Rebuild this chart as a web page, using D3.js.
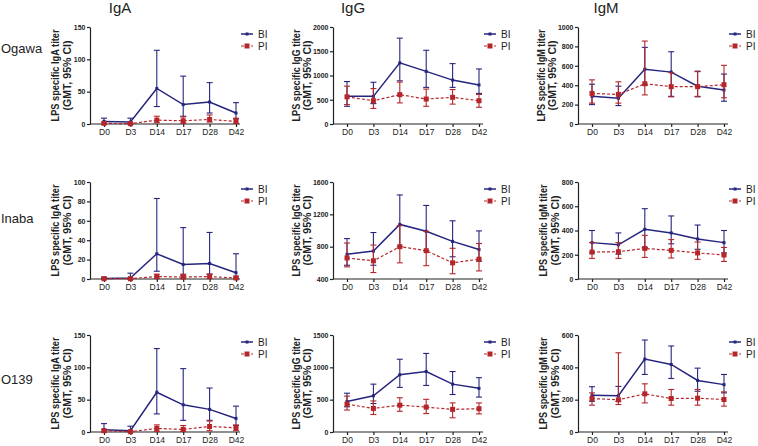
<!DOCTYPE html>
<html><head><meta charset="utf-8">
<script src="https://cdn.jsdelivr.net/npm/d3@7"></script>
<style>
html,body{margin:0;padding:0;background:#fff;}
svg{display:block;}
</style></head>
<body>
<svg id="chart" width="758" height="446"></svg>
<script>
// ---- Data ----
const days = ["D0","D3","D14","D17","D28","D42"];
const strains = ["Ogawa","Inaba","O139"];
const isotypes = ["IgA","IgG","IgM"];
const seriesNames = ["BI","PI"];

// [GMT, lower 95% CI, upper 95% CI] for each day
const ogawaIgA_BI = [[4,0.5,9],[3,0.5,9],[55,27,114],[30,12,74],[34,17,64],[17,8,33]];
const ogawaIgA_PI = [[1,0.2,3],[0.5,0.1,2],[6,2,12],[5,1,11],[7,3,14],[4,1,9]];
const ogawaIgG_BI = [[570,365,875],[570,420,860],[1260,890,1770],[1085,755,1520],[905,755,1245],[805,630,1135]];
const ogawaIgG_PI = [[560,400,780],[480,320,730],[605,435,865],[515,365,720],[550,410,710],[480,345,610]];
const ogawaIgM_BI = [[285,200,410],[265,190,390],[565,400,790],[535,285,745],[390,280,545],[350,235,515]];
const ogawaIgM_PI = [[315,215,455],[305,215,435],[415,300,855],[385,280,530],[385,285,540],[405,270,605]];

const inabaIgA_BI = [[0.5,0,2],[1,0,6],[26,8,83],[15,4,53],[16,5,48],[6.5,1,26]];
const inabaIgA_PI = [[0.3,0,1],[0.3,0,1],[2.5,0.5,5],[2,0.5,5],[2.5,0.5,5],[1,0.2,3]];
const inabaIgG_BI = [[705,570,900],[745,570,975],[1075,800,1440],[990,750,1310],[865,675,1120],[765,620,995]];
const inabaIgG_PI = [[660,550,845],[625,480,820],[800,600,1060],[750,565,990],[600,465,780],[645,500,840]];
const inabaIgM_BI = [[300,215,400],[282,205,380],[410,260,580],[380,290,520],[330,245,445],[300,215,400]];
const inabaIgM_PI = [[222,170,300],[225,170,300],[252,178,360],[236,173,325],[215,162,305],[198,145,260]];

const o139IgA_BI = [[3.6,0.5,13],[2,0.5,9],[61.5,28,129],[42,18,98],[35,18,68],[21,10,40]];
const o139IgA_PI = [[2,0.5,4],[0.5,0.1,2],[5.5,1,11],[4,1,10],[8.5,2,17],[6.5,2,11]];
const o139IgG_BI = [[472,390,600],[560,440,740],[885,690,1125],[935,720,1215],[740,580,935],[675,540,840]];
const o139IgG_PI = [[430,340,555],[365,270,480],[415,320,530],[385,285,505],[350,220,450],[360,280,450]];
const o139IgM_BI = [[228,190,280],[225,190,282],[451,356,569],[418,331,532],[319,252,395],[293,242,356]];
const o139IgM_PI = [[207,166,242],[199,170,490],[236,180,298],[207,166,263],[209,166,263],[201,160,248]];

// y tick labels per panel
const ticksOgawaIgA = [0,50,100,150];
const ticksOgawaIgG = [0,500,1000,1500,2000];
const ticksOgawaIgM = [0,200,400,600,800,1000];
const ticksInabaIgA = [0,20,40,60,80,100];
const ticksInabaIgG = [400,800,1200,1600];
const ticksInabaIgM = [0,200,400,600,800];
const ticksO139IgA = [0,50,100,150];
const ticksO139IgG = [0,500,1000,1500];
const ticksO139IgM = [0,200,400,600];

// ---- Panel table built from the arrays ----
const panels = [
  [ {BI:ogawaIgA_BI, PI:ogawaIgA_PI, ticks:ticksOgawaIgA},
    {BI:ogawaIgG_BI, PI:ogawaIgG_PI, ticks:ticksOgawaIgG},
    {BI:ogawaIgM_BI, PI:ogawaIgM_PI, ticks:ticksOgawaIgM} ],
  [ {BI:inabaIgA_BI, PI:inabaIgA_PI, ticks:ticksInabaIgA},
    {BI:inabaIgG_BI, PI:inabaIgG_PI, ticks:ticksInabaIgG},
    {BI:inabaIgM_BI, PI:inabaIgM_PI, ticks:ticksInabaIgM} ],
  [ {BI:o139IgA_BI, PI:o139IgA_PI, ticks:ticksO139IgA},
    {BI:o139IgG_BI, PI:o139IgG_PI, ticks:ticksO139IgG},
    {BI:o139IgM_BI, PI:o139IgM_PI, ticks:ticksO139IgM} ]
];

// ---- Layout ----
const colX = [90, 333, 578];
const rowTop = [27, 182, 335];
const plotH = 97, plotW = 150;
const colors = {BI:"#25257f", PI:"#b5262b"};
const FONT = "'Liberation Sans', Arial, sans-serif";

const svg = d3.select("#chart");

// column titles
const titleX = [120, 353, 606];
isotypes.forEach((t,i)=>{
  svg.append("text").attr("x", titleX[i]).attr("y", 13)
    .attr("text-anchor","middle").attr("font-family", FONT)
    .attr("font-size", 15).attr("fill","#222").text(t);
});
// row labels
const rowLabelY = [48, 218, 379];
strains.forEach((s,i)=>{
  svg.append("text").attr("x", 1).attr("y", rowLabelY[i]).attr("dy","0.35em")
    .attr("font-family", FONT).attr("font-size", 13).attr("fill","#222").text(s);
});

panels.forEach((row, r)=>{
  row.forEach((p, c)=>{
    const g = svg.append("g").attr("transform", `translate(${colX[c]},${rowTop[r]})`);
    const x = d3.scalePoint().domain(days).range([14, 146]);
    const y = d3.scaleLinear().domain([p.ticks[0], p.ticks[p.ticks.length-1]]).range([plotH, 0]);

    // y axis
    const ya = g.append("g").call(d3.axisLeft(y).tickValues(p.ticks).tickFormat(d3.format("d"))
      .tickSize(3).tickPadding(1.5).tickSizeOuter(0));
    ya.select(".domain").attr("stroke","#222").attr("stroke-width",1.2);
    ya.selectAll(".tick line").attr("stroke","#222").attr("stroke-width",1.2);
    ya.selectAll("text").attr("font-family", FONT).attr("font-weight","bold")
      .attr("font-size", 7).attr("fill","#222");

    // x axis
    const xa = g.append("g").attr("transform", `translate(0,${plotH})`)
      .call(d3.axisBottom(x).tickSize(3).tickPadding(2).tickSizeOuter(0));
    xa.select(".domain").remove();
    xa.append("line").attr("x1",0).attr("x2",plotW).attr("y1",0).attr("y2",0)
      .attr("stroke","#222").attr("stroke-width",1.2);
    xa.selectAll(".tick line").attr("stroke","#222").attr("stroke-width",1.2);
    xa.selectAll("text").attr("font-family", FONT).attr("font-size", 8.5).attr("fill","#222");

    // y axis title (two lines)
    const maxChars = d3.max(p.ticks, t=>String(t).length);
    const tx = -(26 + 2.75*maxChars);
    const lines = [`LPS specific ${isotypes[c]} titer`, "(GMT, 95% CI)"];
    const lens = [92, 70];
    lines.forEach((ln, k)=>{
      g.append("text").attr("transform", `translate(${tx + k*11.5},${plotH/2}) rotate(-90)`)
        .attr("text-anchor","middle").attr("dy","0.35em")
        .attr("font-family", FONT).attr("font-weight","bold")
        .attr("font-size", 10.5).attr("fill","#222")
        .attr("textLength", lens[k]).attr("lengthAdjust","spacingAndGlyphs")
        .text(ln);
    });

    // series
    seriesNames.forEach(sn=>{
      const data = p[sn].map((v,i)=>({day:days[i], g:v[0], lo:v[1], hi:v[2]}));
      const col = colors[sn];
      const eg = g.append("g");
      data.forEach(d=>{
        const cx = x(d.day);
        eg.append("line").attr("x1",cx).attr("x2",cx).attr("y1",y(d.lo)).attr("y2",y(d.hi))
          .attr("stroke",col).attr("stroke-width",1.1);
        [d.lo, d.hi].forEach(v=>{
          eg.append("line").attr("x1",cx-3).attr("x2",cx+3).attr("y1",y(v)).attr("y2",y(v))
            .attr("stroke",col).attr("stroke-width",1.1);
        });
      });
      g.append("path").datum(data)
        .attr("d", d3.line().x(d=>x(d.day)).y(d=>y(d.g)))
        .attr("fill","none").attr("stroke",col)
        .attr("stroke-width", sn==="BI"?1.5:1.2)
        .attr("stroke-dasharray", sn==="BI"?null:"3,2");
      const s = sn==="BI"?3:5;
      g.selectAll(null).data(data).enter().append("rect")
        .attr("x", d=>x(d.day)-s/2).attr("y", d=>y(d.g)-s/2)
        .attr("width", s).attr("height", s).attr("fill", col);
    });

    // legend
    const lg = g.append("g").attr("transform", `translate(151,7)`);
    seriesNames.forEach((sn,i)=>{
      const ly = i*12;
      const col = colors[sn];
      lg.append("line").attr("x1",0).attr("x2",12).attr("y1",ly).attr("y2",ly)
        .attr("stroke",col).attr("stroke-width", sn==="BI"?1.5:1.2)
        .attr("stroke-dasharray", sn==="BI"?null:"3,2");
      const s = sn==="BI"?3:5;
      lg.append("rect").attr("x",6-s/2).attr("y",ly-s/2).attr("width",s).attr("height",s).attr("fill",col);
      lg.append("text").attr("x",17).attr("y",ly).attr("dy","0.35em")
        .attr("font-family", FONT).attr("font-size", 10).attr("fill","#222").text(sn);
    });
  });
});
</script>
</body></html>
